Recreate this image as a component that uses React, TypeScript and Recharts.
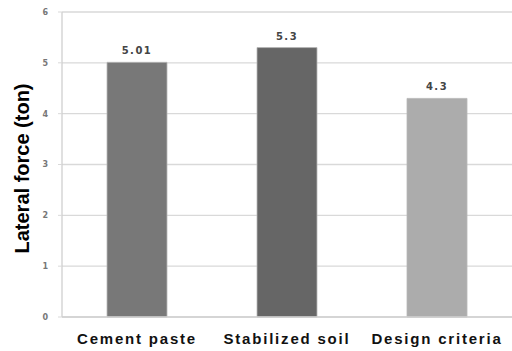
import React from 'react';
import { BarChart, Bar, XAxis, YAxis, CartesianGrid, Cell, LabelList, Label } from 'recharts';

// Lateral force comparison (ton)
const categories = ['Cement paste', 'Stabilized soil', 'Design criteria'];
const lateralForce = [5.01, 5.3, 4.3];
const valueLabels = ['5.01', '5.3', '4.3'];
const yTicks = [0, 1, 2, 3, 4, 5, 6];
const barColors = ['#787878', '#666666', '#acacac'];

const data = categories.map((name, i) => ({
  name,
  force: lateralForce[i],
  label: valueLabels[i],
}));

const YTitle = (props: any) => {
  const vb = props.viewBox || { x: 0, y: 0, width: 0, height: 0 };
  const cx = vb.x + 22;
  const cy = vb.y + vb.height / 2 + 4;
  return (
    <text
      x={cx}
      y={cy}
      transform={`rotate(-90, ${cx}, ${cy})`}
      textAnchor="middle"
      dominantBaseline="central"
      style={{ fontFamily: 'Liberation Sans, Arial, sans-serif', fontWeight: 'bold', fontSize: 20, fill: '#000' }}
    >
      Lateral force (ton)
    </text>
  );
};

export default function App() {
  return (
    <div style={{ position: 'absolute', left: 0, top: 0, width: 512, height: 351, background: '#fff' }}>
      <BarChart
        width={512}
        height={351}
        data={data}
        margin={{ top: 12, right: 0, bottom: 0, left: 0 }}
        barCategoryGap="30%"
      >
        <CartesianGrid vertical={false} stroke="#d9d9d9" strokeWidth={1.3} />
        <XAxis
          dataKey="name"
          height={34}
          interval={0}
          axisLine={{ stroke: '#d0d0d0', strokeWidth: 1.3 }}
          tickLine={false}
          tickMargin={10}
          tick={{
            fontFamily: 'Liberation Sans, Arial, sans-serif',
            fontWeight: 'bold',
            fontSize: 15,
            letterSpacing: 1.8,
            fill: '#111',
          }}
        />
        <YAxis
          width={62}
          domain={[0, 6]}
          ticks={yTicks}
          interval={0}
          axisLine={{ stroke: '#d0d0d0', strokeWidth: 1.3 }}
          tickLine={{ stroke: '#d9d9d9' }}
          tickSize={4}
          tickMargin={10}
          tick={{
            fontFamily: 'DejaVu Sans, Verdana, sans-serif',
            fontWeight: 'bold',
            fontSize: 8,
            fill: '#777',
          }}
        >
          <Label content={<YTitle />} />
        </YAxis>
        <Bar dataKey="force" isAnimationActive={false}>
          {data.map((d, i) => (
            <Cell key={d.name} fill={barColors[i]} stroke="#b8b8b8" strokeWidth={0.8} />
          ))}
          <LabelList
            dataKey="label"
            position="top"
            offset={8}
            style={{
              fontFamily: 'DejaVu Sans, Verdana, sans-serif',
              fontWeight: 'bold',
              fontSize: 10,
              letterSpacing: 1.5,
              fill: '#444',
            }}
          />
        </Bar>
      </BarChart>
    </div>
  );
}
